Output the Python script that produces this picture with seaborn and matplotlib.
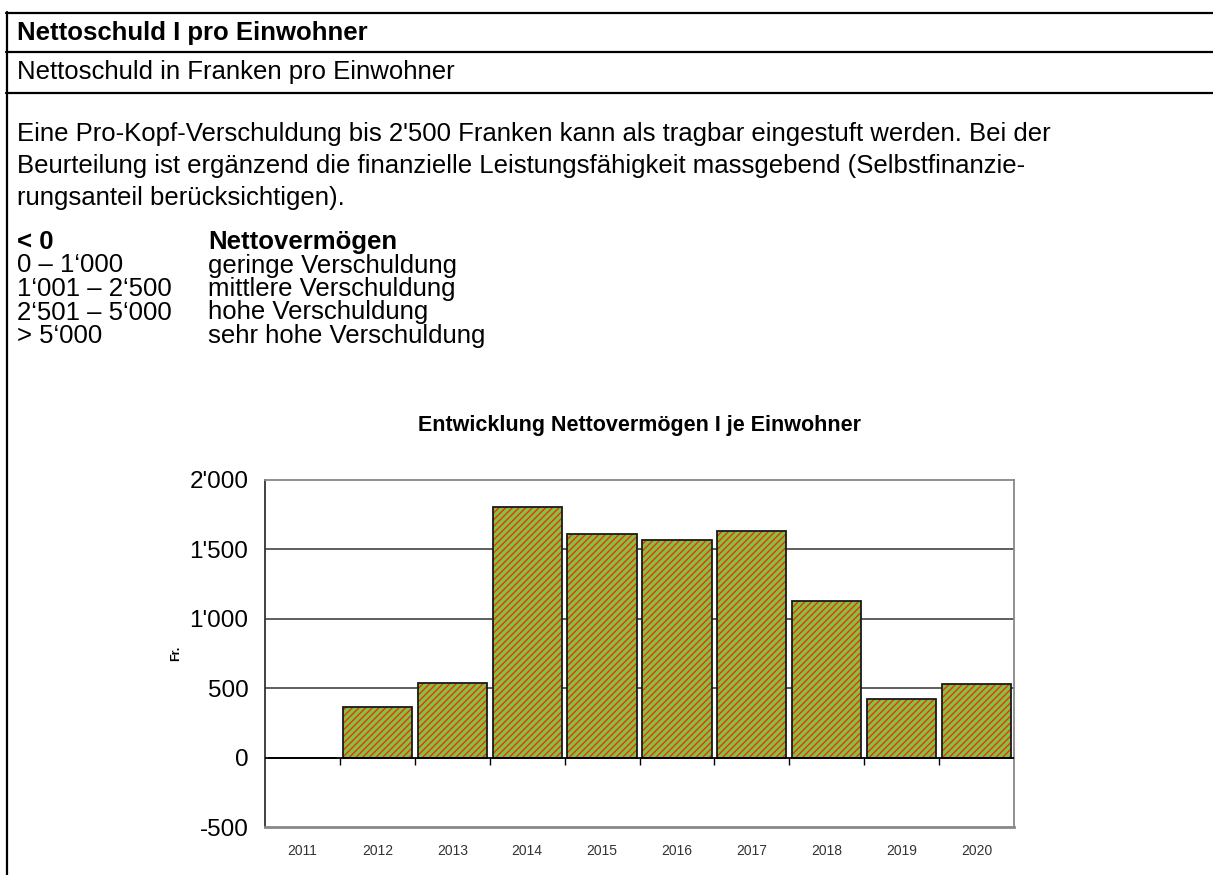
import numpy as np
import pandas as pd
import matplotlib
matplotlib.use("Agg")
import matplotlib.pyplot as plt
import matplotlib.ticker as mticker
from matplotlib.lines import Line2D
import seaborn as sns

# Daten
jahre = ["2011", "2012", "2013", "2014", "2015", "2016", "2017", "2018", "2019", "2020"]
nettovermoegen = [-4, 361, 536, 1806, 1614, 1565, 1632, 1129, 424, 527]
y_ticks = [-500, 0, 500, 1000, 1500, 2000]

titel = "Nettoschuld I pro Einwohner"
untertitel = "Nettoschuld in Franken pro Einwohner"
absatz = ["Eine Pro-Kopf-Verschuldung bis 2'500 Franken kann als tragbar eingestuft werden. Bei der",
          "Beurteilung ist ergänzend die finanzielle Leistungsfähigkeit massgebend (Selbstfinanzie-",
          "rungsanteil berücksichtigen)."]
stufen = ["< 0", "0 – 1‘000", "1‘001 – 2‘500", "2‘501 – 5‘000", "> 5‘000"]
stufen_text = ["Nettovermögen", "geringe Verschuldung", "mittlere Verschuldung",
               "hohe Verschuldung", "sehr hohe Verschuldung"]
chart_titel = "Entwicklung Nettovermögen I je Einwohner"

df = pd.DataFrame({"Jahr": jahre, "Wert": nettovermoegen})

sns.set_style("white")
plt.rcParams["font.family"] = ["Liberation Sans", "DejaVu Sans"]
plt.rcParams["hatch.linewidth"] = 1.0

W, H = 1213, 875
fig = plt.figure(figsize=(W / 100, H / 100), dpi=100)


def fx(px):
    return px / W


def fy(py):
    return 1 - py / H


# Rahmen des Dokuments
for y in [13, 52, 93]:
    fig.add_artist(Line2D([fx(6), 1], [fy(y), fy(y)], color="black", lw=1.6))
fig.add_artist(Line2D([fx(7), fx(7)], [fy(12), 0], color="black", lw=1.6))

# Texte
fs = 18.5
fig.text(fx(17), fy(33), titel, fontsize=fs, fontweight="bold", va="center", color="black")
fig.text(fx(17), fy(72), untertitel, fontsize=fs, va="center", color="black")
for i, zeile in enumerate(absatz):
    fig.text(fx(17), fy(134 + i * 32), zeile, fontsize=fs, va="center", color="black")
for i, (a, b) in enumerate(zip(stufen, stufen_text)):
    gew = "bold" if i == 0 else "normal"
    y = 242 + i * 23.5
    fig.text(fx(17), fy(y), a, fontsize=fs, fontweight=gew, va="center", color="black")
    fig.text(fx(208), fy(y), b, fontsize=fs, fontweight=gew, va="center", color="black")

# Diagramm
ax = fig.add_axes([fx(265), fy(827), fx(1014) - fx(265), fy(480) - fy(827)])
sns.barplot(data=df, x="Jahr", y="Wert", color="#86c23c", width=0.925,
            saturation=1, linewidth=0, ax=ax, zorder=3)
for p in ax.patches:
    p.set_hatch("/////")
    p.set_edgecolor("#e8321e")
    p.set_linewidth(0)
sns.barplot(data=df, x="Jahr", y="Wert", fill=False, width=0.925,
            edgecolor="#1a1a1a", linewidth=1.3, ax=ax, zorder=4)

ax.set_ylim(-500, 2000)
ax.set_xlim(-0.5, len(jahre) - 0.5)
ax.set_yticks(y_ticks)
ax.yaxis.set_major_formatter(mticker.FuncFormatter(lambda v, _: f"{v:,.0f}".replace(",", "'")))
for v in [500, 1000, 1500]:
    ax.axhline(v, color="#333333", lw=1.1, zorder=1)
ax.axhline(0, color="black", lw=1.3, zorder=5)
grenzen = np.arange(len(jahre) - 1) + 0.5
ax.plot(grenzen, np.zeros_like(grenzen), ls="none", marker=3, markersize=5,
        color="black", zorder=5, clip_on=False)

ax.tick_params(axis="y", length=7, width=1, color="#333333", labelsize=17.5,
               labelcolor="black", pad=5)
ax.tick_params(axis="x", length=0, labelsize=10, labelcolor="#333333", pad=12)
ax.set_xlabel("")
ax.set_ylabel("Fr.", fontsize=9, fontweight="bold", labelpad=5, color="black")
for s in ["top", "right"]:
    ax.spines[s].set_color("#888888")
    ax.spines[s].set_linewidth(1.3)
ax.spines["bottom"].set_color("#888888")
ax.spines["bottom"].set_linewidth(2)
ax.spines["left"].set_color("#333333")
ax.spines["left"].set_linewidth(1.3)

fig.text((fx(265) + fx(1014)) / 2, fy(426), chart_titel, fontsize=15.5,
         fontweight="bold", ha="center", va="center", color="black")

fig.savefig("out.png", dpi=100)
